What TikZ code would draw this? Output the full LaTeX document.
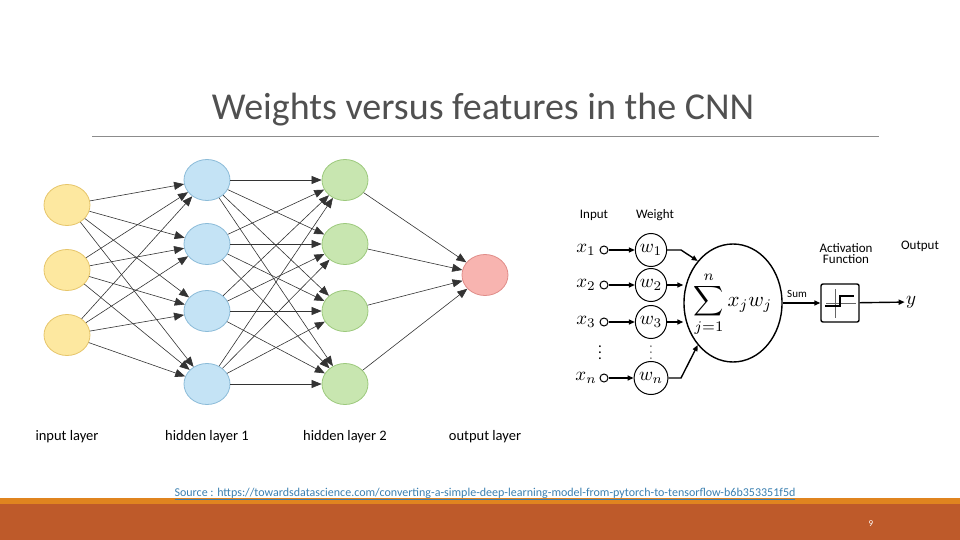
\documentclass[tikz,border=0pt]{standalone}
\usepackage{fontspec}
\setmainfont{Carlito}
\usetikzlibrary{arrows.meta,shapes.geometric}
\definecolor{yel}{HTML}{FDE8A0}\definecolor{yeld}{HTML}{E6C56A}
\definecolor{blu}{HTML}{C4E3F5}\definecolor{blud}{HTML}{8BBBD8}
\definecolor{gre}{HTML}{C8E6B0}\definecolor{gred}{HTML}{9CC97C}
\definecolor{red1}{HTML}{F8B4B0}\definecolor{redd}{HTML}{E08C88}
\definecolor{barA}{HTML}{E0841F}\definecolor{barB}{HTML}{BE5A2A}
\definecolor{lnk}{HTML}{3A7FB0}
\begin{document}
\begin{tikzpicture}[x=1pt,y=-1pt,
 neu/.style={ellipse,minimum width=46pt,minimum height=41pt,line width=0.8pt},
 edge/.style={draw=black!80,line width=0.6pt,-{Triangle[length=10pt,width=8pt]}},
 lab/.style={font=\fontsize{14.5}{16}\selectfont},
 plab/.style={font=\fontsize{13}{14}\selectfont},
 mth/.style={scale=1.9,transform shape,inner sep=0.5pt},
 pa/.style={line width=1.4pt,-{Triangle[length=6pt,width=5pt]}},
 wc/.style={ellipse,draw,line width=1pt,minimum width=27pt,minimum height=33pt,inner sep=0pt}]
\useasboundingbox (0,0) rectangle (960,540);
\fill[barA] (0,498) rectangle (960,504);
\fill[barB] (0,504) rectangle (960,540);
\node (title) at (483,110) {\fontsize{38}{40}\selectfont\addfontfeature{Color=505050}Weights versus features in the CNN};
\draw[black!45,line width=0.6pt] (92,136) -- (879,136);
% network
\foreach \i/\y in {1/205,2/270,3/335} \node[neu,fill=yel,draw=yeld] (a\i) at (67,\y) {};
\foreach \i/\y in {1/180,2/244,3/311,4/384} {
 \node[neu,fill=blu,draw=blud] (b\i) at (207,\y) {};
 \node[neu,fill=gre,draw=gred] (c\i) at (345,\y) {};}
\node[neu,fill=red1,draw=redd] (o) at (485,275) {};
\foreach \i in {1,2,3} \foreach \j in {1,2,3,4} \draw[edge] (a\i) -- (b\j);
\foreach \i in {1,2,3,4} \foreach \j in {1,2,3,4} \draw[edge] (b\i) -- (c\j);
\foreach \i in {1,2,3,4} \draw[edge] (c\i) -- (o);
\node[lab] (l1) at (67,437) {input layer};
\node[lab] (l2) at (207,437) {hidden layer 1};
\node[lab] (l3) at (345,437) {hidden layer 2};
\node[lab] (l4) at (485,437) {output layer};
% perceptron
\node[plab] (tin) at (594,215) {Input};
\node[plab] (tw) at (655,215) {Weight};
\node[plab,align=center] (tact) at (846,254) {Activation\\[-3pt]Function};
\node[plab] (tout) at (920,246) {Output};
\node[ellipse,draw,line width=1.4pt,minimum width=98pt,minimum height=118pt] (S) at (733,303) {};
\node[scale=2.1,transform shape] (sum) at (733,304) {$\displaystyle\sum_{j=1}^{n} x_jw_j$};
\foreach \i/\y/\s in {1/250/1,2/285/2,3/322/3,n/378/n} {
 \node[mth] (x\i) at (586,\y) {$x_{\s}$};
 \node[circle,draw,line width=1pt,minimum size=8pt,inner sep=0pt] (p\i) at (604,\y) {};
 \node[wc] (w\i) at (651,\y) {\scalebox{1.9}{$w_{\s}$}};
 \draw[pa] (p\i) -- (w\i);}
\node[scale=1.5,transform shape] (d1) at (600,348) {$\vdots$};
\node[scale=1.5,transform shape,text=black!50] (d2) at (651,348) {$\vdots$};
\coordinate (k1) at (681,250); \coordinate (kn) at (681,378);
\draw[pa] (w1.east) -- (k1) -- (S.130);
\draw[pa] (w2.east) -- (S.west |- w2);
\draw[pa] (w3.east) -- (S.west |- w3);
\draw[pa] (wn.east) -- (kn) -- (S.230);
\node[draw,line width=1.4pt,rounded corners=2pt,minimum size=38pt] (act) at (840,303) {};
\draw[black!60,line width=0.5pt] (act.center)++(-14,0) -- ++(30,0);
\draw[black!60,line width=0.5pt] (act.center)++(-5,-14) -- ++(0,29);
\draw[line width=1.4pt] (act.center)++(-15,3) -- ++(15,0) -- ++(0,-10) -- ++(14,0);
\draw[pa] (S) -- (act);
\node[font=\fontsize{11}{12}\selectfont] (ts) at (797,294) {Sum};
\node[mth] (yy) at (911,302) {$y$};
\draw[pa] (act) -- (yy);
% footer
\node[font=\fontsize{12}{13}\selectfont,text=lnk] (src) at (485,494) {\underline{Source : https://towardsdatascience.com/converting-a-simple-deep-learning-model-from-pytorch-to-tensorflow-b6b353351f5d}};
\node[font=\fontsize{9}{10}\selectfont,text=white] (pg) at (871,524) {9};
\end{tikzpicture}
\end{document}
